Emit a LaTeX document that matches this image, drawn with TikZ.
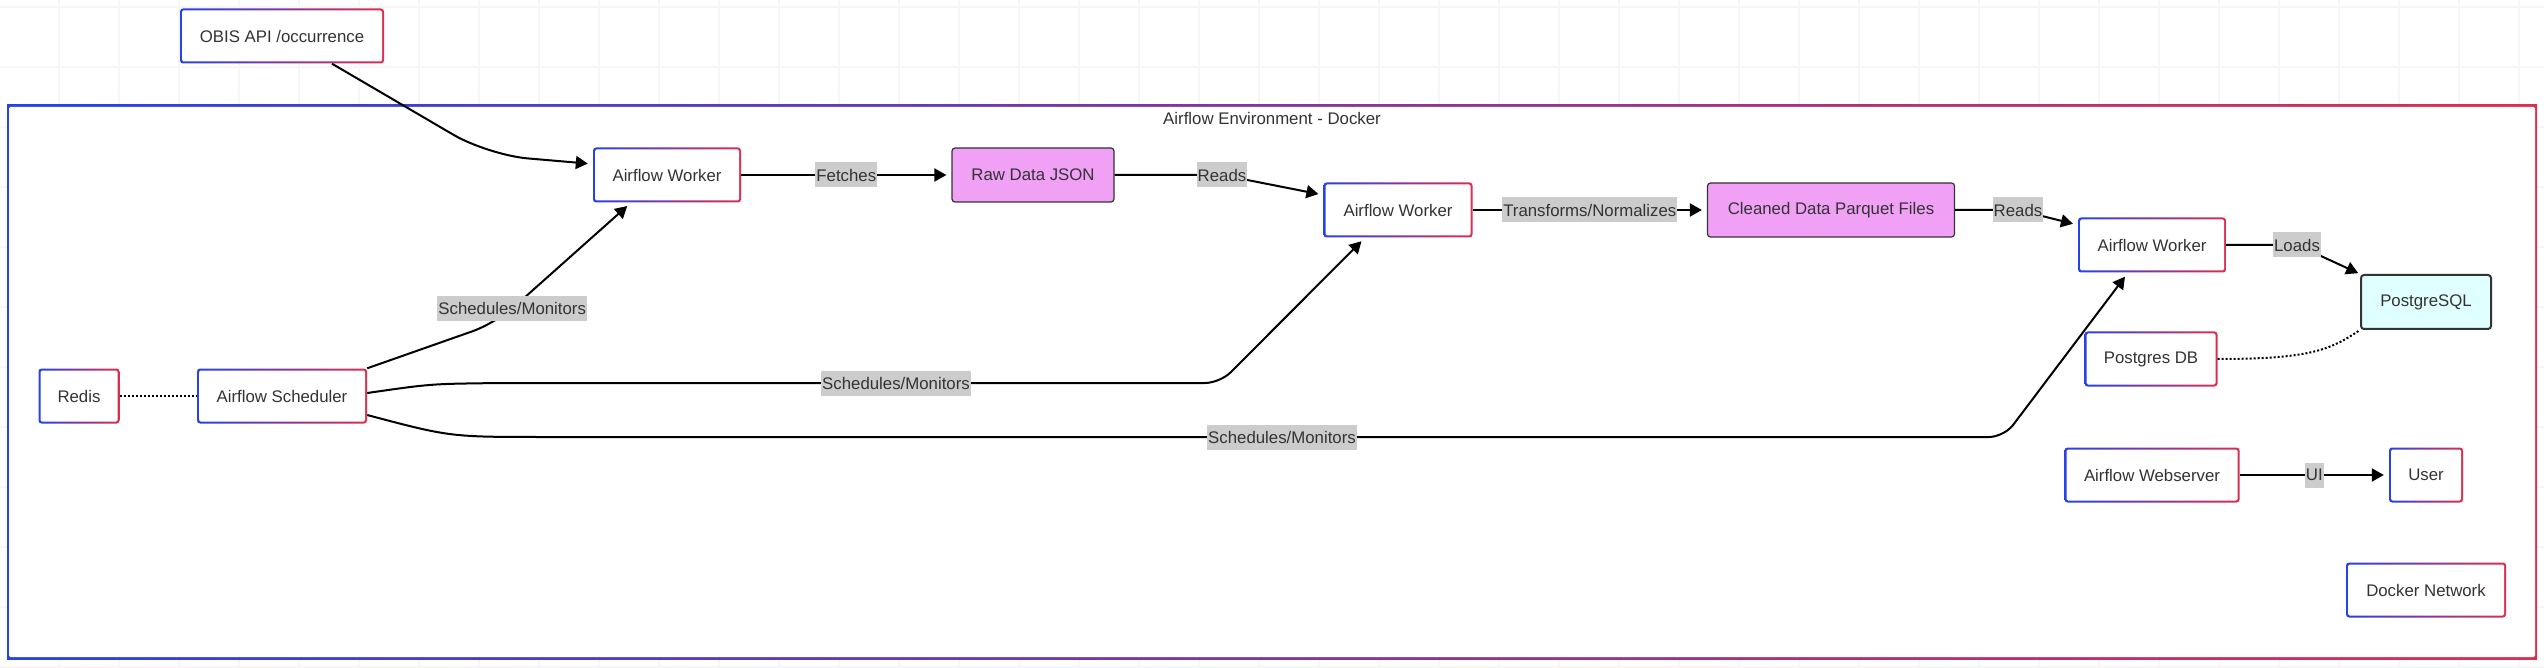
\documentclass[tikz,border=0pt]{standalone}
\usepackage{fontspec}
\setmainfont{Liberation Sans}
\usepackage{tikz}
\usetikzlibrary{arrows.meta}

\definecolor{gblue}{RGB}{38,66,232}
\definecolor{gred}{RGB}{222,45,80}
\definecolor{txt}{RGB}{51,51,51}
\definecolor{rawpink}{RGB}{240,160,245}
\definecolor{pgcyan}{RGB}{224,255,255}
\definecolor{lblgray}{RGB}{204,204,204}
\definecolor{gridgray}{RGB}{246,246,246}

\begin{document}
\begin{tikzpicture}[x=1pt, y=-1pt,
        every node/.style={font=\fontsize{16.8}{20}\selectfont, text=txt},
        bggrid/.style={line width=1.3pt, gridgray},
        gbox/.style={rectangle, rounded corners=3pt, inner sep=0pt, minimum height=55pt,
            path picture={
                \shade[left color=gblue, right color=gred] (path picture bounding box.south west) rectangle (path picture bounding box.north east);
                \fill[white, rounded corners=1.5pt] ([shift={(2pt,2pt)}]path picture bounding box.south west) rectangle ([shift={(-2pt,-2pt)}]path picture bounding box.north east);
            }},
        databox/.style={rectangle, rounded corners=3pt, draw=txt, line width=1.2pt, fill=rawpink, inner sep=0pt, minimum height=54pt},
        dbbox/.style={databox, fill=pgcyan, line width=2pt},
        conn/.style={line width=2pt, -{Triangle[length=12pt,width=13pt]}, shorten >=5pt},
        dotline/.style={line width=2pt, dash pattern=on 2pt off 2pt},
        lbl/.style={fill=lblgray, sharp corners, inner xsep=1pt, inner ysep=0pt, minimum height=25pt}]
        \useasboundingbox (0,0) rectangle (2544,668);
        \foreach \i in {0,...,41} \draw[bggrid] ({59+60*\i},0) -- ({59+60*\i},668);
        \foreach \j in {0,...,11} \draw[bggrid] (0,{7+60*\j}) -- (2544,{7+60*\j});

        \node[gbox, rounded corners=0pt, minimum width=2530pt, minimum height=554pt] (env) at (1272,382) {};
        \node (envtitle) at (1272,118) {Airflow Environment - Docker};

        \node[gbox, minimum width=204pt] (obis) at (282,36) {OBIS API /occurrence};
        \node[gbox, minimum width=148pt] (w1) at (667,175) {Airflow Worker};
        \node[databox, minimum width=162pt] (raw) at (1033,175) {Raw Data JSON};
        \node[gbox, minimum width=149pt] (w2) at (1398,210) {Airflow Worker};
        \node[databox, minimum width=247pt] (clean) at (1831,210) {Cleaned Data Parquet Files};
        \node[gbox, minimum width=148pt] (w3) at (2152,245) {Airflow Worker};
        \node[dbbox, minimum width=130pt] (pg) at (2426,302) {PostgreSQL};
        \node[gbox, minimum width=133pt] (pgdb) at (2151,359) {Postgres DB};
        \node[gbox, minimum width=81pt] (redis) at (79,396) {Redis};
        \node[gbox, minimum width=170pt] (sched) at (282,396) {Airflow Scheduler};
        \node[gbox, minimum width=175pt] (web) at (2152,475) {Airflow Webserver};
        \node[gbox, minimum width=74pt] (user) at (2426,475) {User};
        \node[gbox, minimum width=160pt] (dnet) at (2426,590) {Docker Network};

        \draw[conn, rounded corners=40pt] ([xshift=50pt]obis.south) -- (488,155) -- ([yshift=11pt]w1.west);
        \draw[conn] (w1) -- node[lbl] {Fetches} (raw);
        \draw[conn] (raw.east) -- (1222,175) node[lbl] {Reads} -- ([yshift=15pt]w2.west);
        \draw[conn] (w2) -- node[lbl] {Transforms/Normalizes} (clean);
        \draw[conn] (clean.east) -- (2018,210) node[lbl] {Reads} -- ([yshift=20pt]w3.west);
        \draw[conn, shorten >=2pt] (w3.east) -- (2297,245) node[lbl] {Loads} -- (pg.north west);
        \draw[dotline] (pgdb.east) .. controls (2310,359) and (2330,350) .. (pg.south west);
        \draw[dotline] (redis) -- (sched);
        \draw[conn, rounded corners=25pt] (sched.north east) -- (496,323) -- node[lbl, pos=0.12] {Schedules/Monitors} ([xshift=-36pt]w1.south);
        \draw[conn, rounded corners=15pt] ([yshift=3pt]sched.east) .. controls (430,384) .. (500,383) -- node[lbl, pos=0.55] {Schedules/Monitors} (1220,383) -- ([xshift=-33pt]w2.south);
        \draw[conn, rounded corners=15pt] ([yshift=-19pt]sched.east) .. controls (450,437) .. (560,437) -- node[lbl] {Schedules/Monitors} (2004,437) -- ([xshift=-24pt]w3.south);
        \draw[conn] (web) -- node[lbl] {UI} (user);
\end{tikzpicture}
\end{document}
